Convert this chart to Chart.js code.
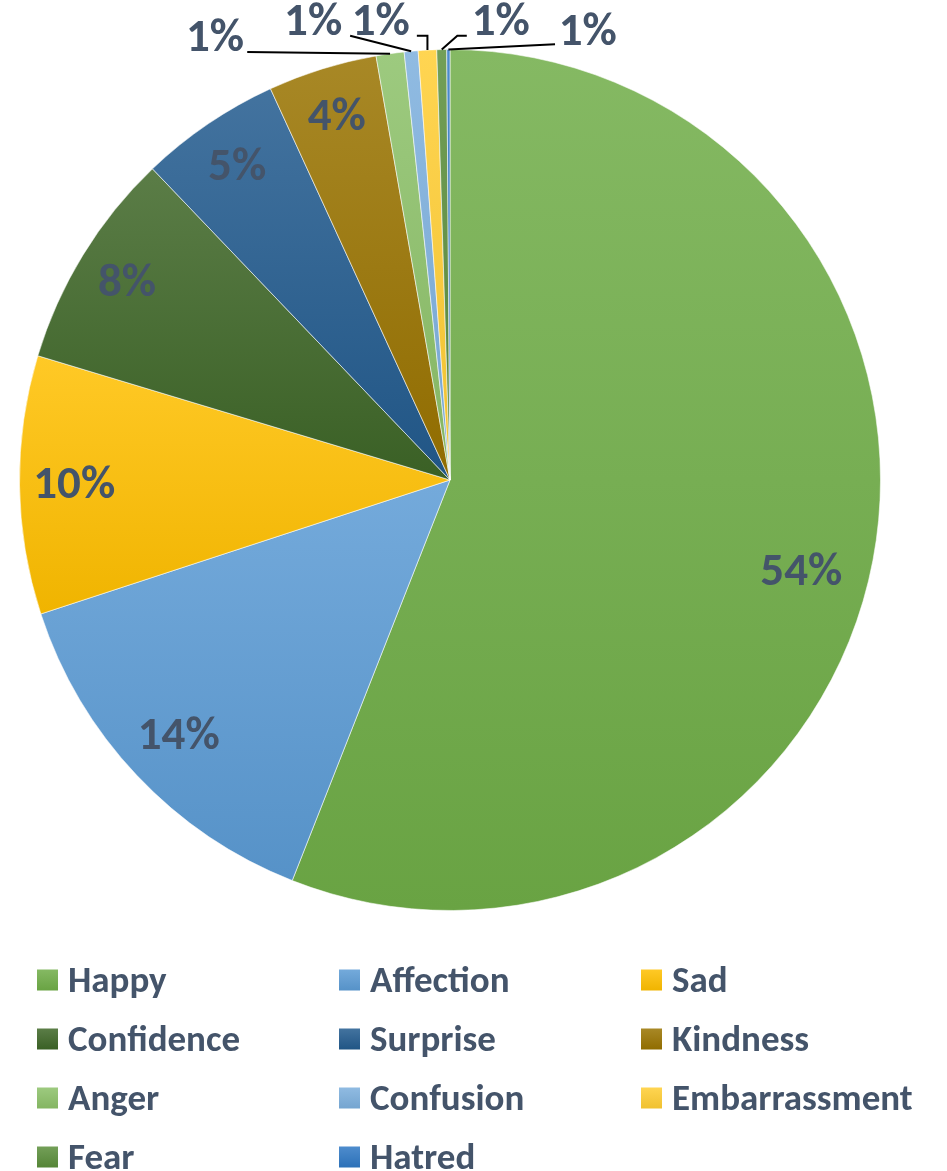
<!DOCTYPE html>
<html>
<head>
<meta charset="utf-8">
<title>Emotions pie</title>
<script src="https://cdn.jsdelivr.net/npm/chart.js@4.4.1/dist/chart.umd.min.js"></script>
<style>
  body { margin: 0; background: #fff; }
  #wrap { width: 947px; height: 1171px; }
</style>
</head>
<body>
<div id="wrap"><canvas id="emotions-chart" width="947" height="1171"></canvas></div>
<script>
// slices, clockwise from 12 o'clock
const emotions = ['Happy', 'Affection', 'Sad', 'Confidence', 'Surprise', 'Kindness',
    'Anger', 'Confusion', 'Embarrassment', 'Fear', 'Hatred'];
// share of each slice in %
const shares = [56.0, 14.0, 9.7, 8.2, 5.3, 4.1, 1.05, 0.52, 0.69, 0.37, 0.12];
// the percentage text printed on each slice
const shareLabels = ['54%', '14%', '10%', '8%', '5%', '4%', '1%', '1%', '1%', '1%', '1%'];

const sliceColors = ['#70AD47', '#5B9BD5', '#FFC000', '#3E6627', '#225A8E', '#997300',
    '#8CC168', '#7CAFDD', '#FFCD33', '#5A8E3A', '#2F78C4'];

const FONT = "Carlito, 'Liberation Sans Narrow', 'Arial Narrow', 'DejaVu Sans Condensed', sans-serif";
const TEXT_COLOR = '#44546A';

// where each percentage goes, in units of the pie radius.
// f/shift: inside, along the slice middle; text/leader: outside with a leader line
const labelPlacement = [
    { f: 0.843, shift: 3.8 },
    { f: 0.866 },
    { f: 0.873 },
    { f: 0.88 },
    { f: 0.88 },
    { f: 0.886 },
    { text: [-0.546, -1.029], leader: [[-0.471, -0.994]] },
    { text: [-0.318, -1.065], leader: [[-0.232, -1.032]] },
    { text: [-0.161, -1.065], leader: [[-0.077, -1.032]], drop: true },
    { text: [0.118, -1.065], leader: [[0.039, -1.032], [0.017, -1.032]] },
    { text: [0.320, -1.042], leader: [[0.244, -1.012]] }
];
const LABEL_SIZE = 47;
const legendLayout = { left: 37, top: 980, colWidth: 302, rowHeight: 59, box: 21, gap: 31, size: 37 };

// lighten (t > 0) or darken (t < 0) a hex colour
function shade(hex, t) {
    const n = parseInt(hex.slice(1), 16);
    const c = [(n >> 16) & 255, (n >> 8) & 255, n & 255].map(v =>
        Math.round(t > 0 ? v + (255 - v) * t : v * (1 + t)));
    return 'rgb(' + c.join(',') + ')';
}

// vertical gradient over the slice's own height, like the Excel fill
function sliceFill(context) {
    const chart = context.chart;
    const area = chart.chartArea;
    const i = context.dataIndex;
    if (!area || i === undefined) return sliceColors[i || 0];
    const cy = (area.top + area.bottom) / 2;
    const r = Math.min(area.right - area.left, area.bottom - area.top) / 2;
    const total = shares.reduce((a, b) => a + b, 0);
    let a0 = 0;
    for (let k = 0; k < i; k++) a0 += shares[k] / total * 2 * Math.PI;
    const a1 = a0 + shares[i] / total * 2 * Math.PI;
    const ys = [cy, cy - r * Math.cos(a0), cy - r * Math.cos(a1)];
    if (a0 <= 0) ys.push(cy - r);
    if (a0 <= Math.PI && a1 >= Math.PI) ys.push(cy + r);
    const g = chart.ctx.createLinearGradient(0, Math.min(...ys), 0, Math.max(...ys));
    g.addColorStop(0, shade(sliceColors[i], 0.15));
    g.addColorStop(1, shade(sliceColors[i], -0.06));
    return g;
}

// percentage labels, inside for big slices, with leader lines for the thin ones
const pieLabels = {
    id: 'pieLabels',
    afterDatasetsDraw(chart) {
        const ctx = chart.ctx;
        const arcs = chart.getDatasetMeta(0).data;
        ctx.save();
        ctx.font = 'bold ' + LABEL_SIZE + 'px ' + FONT;
        ctx.strokeStyle = '#000';
        ctx.lineWidth = 2;
        ctx.textAlign = 'center';
        ctx.textBaseline = 'middle';
        arcs.forEach((arc, i) => {
            const p = arc.getProps(['x', 'y', 'startAngle', 'endAngle', 'outerRadius'], true);
            const r = p.outerRadius;
            const mid = (p.startAngle + p.endAngle) / 2;
            const place = labelPlacement[i];
            let tx, ty;
            if (place.text) {
                const ex = p.x + Math.cos(mid) * r;
                const ey = p.y + Math.sin(mid) * r;
                const pts = place.leader.map(q => [p.x + q[0] * r, p.y + q[1] * r]);
                ctx.beginPath();
                ctx.moveTo(pts[0][0], pts[0][1]);
                pts.slice(1).forEach(q => ctx.lineTo(q[0], q[1]));
                if (place.drop) ctx.lineTo(ex, pts[pts.length - 1][1]);
                ctx.lineTo(ex, ey);
                ctx.stroke();
                tx = p.x + place.text[0] * r;
                ty = p.y + place.text[1] * r;
            } else {
                const a = mid + (place.shift || 0) * Math.PI / 180;
                tx = p.x + Math.cos(a) * r * place.f;
                ty = p.y + Math.sin(a) * r * place.f;
            }
            ctx.fillStyle = TEXT_COLOR;
            ctx.fillText(shareLabels[i], tx, ty + 2);
        });
        ctx.restore();
    }
};

// legend in a 3 column grid under the pie
const gridLegend = {
    id: 'gridLegend',
    afterDraw(chart) {
        const ctx = chart.ctx;
        const L = legendLayout;
        ctx.save();
        ctx.font = 'bold ' + L.size + 'px ' + FONT;
        ctx.textBaseline = 'middle';
        ctx.textAlign = 'left';
        chart.data.labels.forEach((label, i) => {
            const x = L.left + (i % 3) * L.colWidth;
            const y = L.top + Math.floor(i / 3) * L.rowHeight;
            const s = L.box;
            const g = ctx.createLinearGradient(0, y - s / 2, 0, y + s / 2);
            g.addColorStop(0, shade(sliceColors[i], 0.15));
            g.addColorStop(1, shade(sliceColors[i], -0.06));
            ctx.fillStyle = g;
            ctx.fillRect(x, y - s / 2, s, s);
            ctx.fillStyle = TEXT_COLOR;
            ctx.fillText(label, x + L.gap, y + 3);
        });
        ctx.restore();
    }
};

new Chart(document.getElementById('emotions-chart'), {
    type: 'pie',
    data: {
        labels: emotions,
        datasets: [{
            data: shares,
            backgroundColor: sliceFill,
            borderColor: 'rgba(255,255,255,0.55)',
            borderWidth: 1
        }]
    },
    options: {
        responsive: false,
        animation: false,
        layout: { padding: { left: 19, right: 66, top: 49, bottom: 260 } },
        plugins: {
            legend: { display: false },
            tooltip: { enabled: false }
        }
    },
    plugins: [pieLabels, gridLegend]
});
</script>
</body>
</html>
